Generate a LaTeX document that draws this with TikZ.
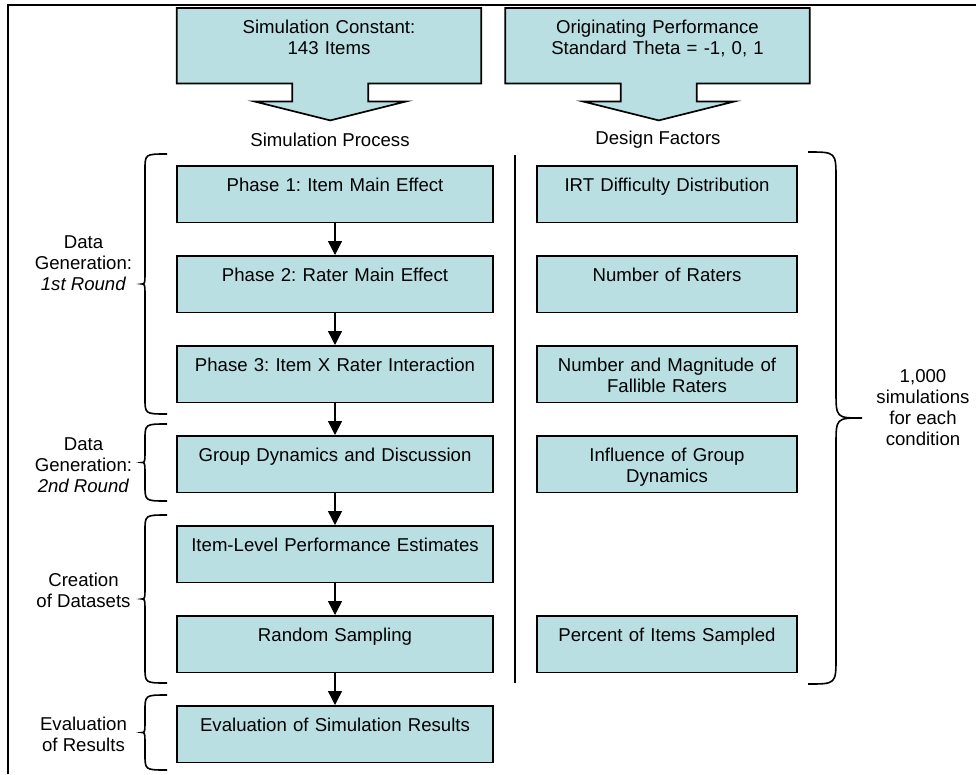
\documentclass[tikz,border=0pt]{standalone}
\usepackage{fontspec}
\setmainfont{Liberation Sans}
\usetikzlibrary{arrows.meta,backgrounds}
\definecolor{boxfill}{HTML}{B9DFE3}
\frenchspacing
\tikzstyle{stagebox}=[draw=black, fill=boxfill, line width=1.7pt, anchor=north, inner sep=0pt, align=center, text height=26pt, text depth=30.5pt, minimum height=56.5pt]
\tikzstyle{procbox}=[stagebox, minimum width=316pt, text width=306pt]
\tikzstyle{factorbox}=[stagebox, minimum width=260pt, text width=250pt]
\tikzstyle{topbox}=[anchor=north, inner sep=0pt, align=center, text width=294pt, minimum width=304pt, minimum height=75pt, text height=25.5pt, text depth=49.5pt]
\tikzstyle{caption}=[align=center, inner sep=0pt]
\tikzstyle{flow}=[line width=1.4pt, -{Triangle[width=14pt,length=14pt]}]
\tikzstyle{bracket}=[line width=1.6pt]
% brace: x of ends, x of line, x of tip, top, bottom, curl
\newcommand{\sidebrace}[6]{%
  \draw[bracket] (#1,#4) .. controls (#2,#4) .. (#2,#4+#6)
    -- (#2,{(#4+#5)/2-#6}) .. controls (#2,{(#4+#5)/2}) .. (#3,{(#4+#5)/2})
    .. controls (#2,{(#4+#5)/2}) .. (#2,{(#4+#5)/2+#6})
    -- (#2,#5-#6) .. controls (#2,#5) .. (#1,#5);}

\begin{document}
\begin{tikzpicture}[x=1pt, y=-1pt, font=\fontsize{18.6pt}{21pt}\selectfont]
	\useasboundingbox (0,0) rectangle (976,774);
	\draw[line width=2.2pt] (8,774) -- (8,5) -- (976,5);

	% top arrows
	\node[topbox] (const) at (329,8) {Simulation Constant:\\143 Items};
	\node[topbox] (orig) at (657.5,8) {Originating Performance\\Standard Theta = -1, 0, 1};
	\begin{scope}[on background layer]
		\foreach \n in {const,orig}
			\draw[line width=1.7pt, fill=boxfill] (\n.north west) -- (\n.north east) -- (\n.south east)
				-- ++(-113,0) -- ++(0,18) -- ++(38,0) -- ++(-76,19) -- ++(-76,-19) -- ++(38,0) -- ++(0,-18)
				-- (\n.south west) -- cycle;
	\end{scope}
	\node[caption] (sp) at (330,140) {Simulation Process};
	\node[caption] (df) at (658,140) {Design Factors};

	% simulation process
	\node[procbox] (p1) at (335,165) {Phase 1: Item Main Effect};
	\node[procbox] (p2) at (335,255) {Phase 2: Rater Main Effect};
	\node[procbox] (p3) at (335,345) {Phase 3: Item X Rater Interaction};
	\node[procbox] (gd) at (335,435) {Group Dynamics and Discussion};
	\node[procbox] (il) at (335,525) {Item-Level Performance Estimates};
	\node[procbox] (rs) at (335,615) {Random Sampling};
	\node[procbox] (ev) at (335,705) {Evaluation of Simulation Results};
	\foreach \a/\b in {p1/p2,p2/p3,p3/gd,gd/il,il/rs,rs/ev}
		\draw[flow] (\a) -- (\b);

	% design factors
	\node[factorbox] (irt) at (667,165) {IRT Difficulty Distribution};
	\node[factorbox] (nr) at (667,255) {Number of Raters};
	\node[factorbox] (fr) at (667,345) {Number and Magnitude of\\Fallible Raters};
	\node[factorbox] (ig) at (667,435) {Influence of Group\\Dynamics};
	\node[factorbox] (pis) at (667,615) {Percent of Items Sampled};
	\draw[line width=1.6pt] (515,155) -- (515,683);

	% braces and labels
	\sidebrace{167}{145}{142}{154}{414}{16}
	\sidebrace{167}{145}{142}{424}{501}{16}
	\sidebrace{167}{145}{142}{515}{683}{16}
	\sidebrace{167}{145}{142}{695}{770}{16}
	\sidebrace{808}{836}{862}{152}{684}{27}
	\node[caption] (dg1) at (83.5,263) {Data\\Generation:\\\textit{1st Round}};
	\node[caption] (dg2) at (83.5,465) {Data\\Generation:\\\textit{2nd Round}};
	\node[caption] (cd) at (83.5,590) {Creation\\of Datasets};
	\node[caption] (er) at (83.5,734) {Evaluation\\of Results};
	\node[caption] (sims) at (923,408) {1,000\\simulations\\for each\\condition};
\end{tikzpicture}
\end{document}
